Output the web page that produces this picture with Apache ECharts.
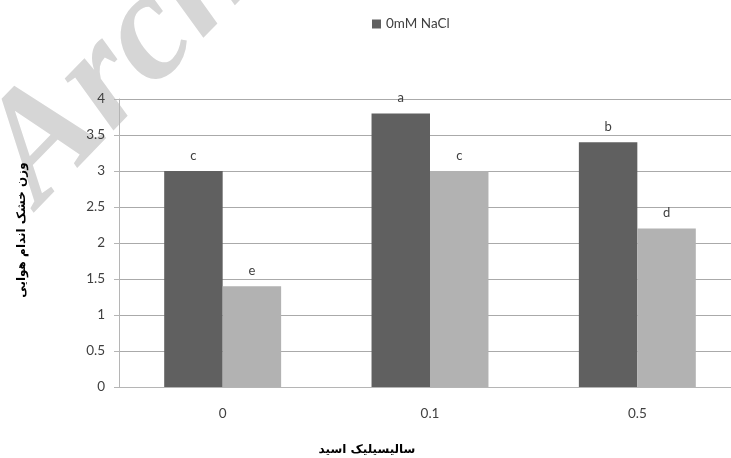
<!DOCTYPE html>
<html><head><meta charset="utf-8">
<script src="https://cdn.jsdelivr.net/npm/echarts@6/dist/echarts.min.js"></script>
<style>html,body{margin:0;padding:0;background:#fff;overflow:hidden;width:731px;height:458px}#c{width:745px;height:458px}</style>
</head><body><div id="c"></div>
<script>
const categories = ['0', '0.1', '0.5'];
const seriesNames = ['0mM NaCl', '100mM NaCl'];
const darkValues = [3.0, 3.8, 3.4];
const lightValues = [1.4, 3.0, 2.2];
const darkLetters = ['c', 'a', 'b'];
const lightLetters = ['e', 'c', 'd'];
const yTicks = [0, 0.5, 1, 1.5, 2, 2.5, 3, 3.5, 4];

const chart = echarts.init(document.getElementById('c'));
const font = 'Lato, "Open Sans", sans-serif';
function letterLabel(letters) {
  return { show: true, position: 'top', distance: 9, color: '#404040', fontSize: 13, fontFamily: font,
    formatter: p => letters[p.dataIndex] };
}
chart.setOption({
  animation: false,
  backgroundColor: '#fff',
  graphic: [{
    type: 'text', x: -45, y: 125, rotation: 0.8, z: 0, silent: true,
    style: { text: 'Archive of SID', font: 'italic bold 155px "Liberation Serif", serif', fill: '#d6d6d6', textVerticalAlign: 'alphabetic' }
  }, {
    type: 'text', x: 22, y: 230, rotation: Math.PI / 2, z: 10,
    style: { text: 'وزن خشک اندام هوایی', font: 'bold 12px "DejaVu Sans", sans-serif', fill: '#000', align: 'center', verticalAlign: 'middle' }
  }, {
    type: 'text', x: 367, y: 450, z: 10,
    style: { text: 'سالیسیلیک اسید', font: 'bold 12px "DejaVu Sans", sans-serif', fill: '#000', align: 'center', verticalAlign: 'middle' }
  }],
  legend: {
    data: [seriesNames[0]], top: 12, left: 367, itemWidth: 9, itemHeight: 9, itemGap: 3,
    icon: 'rect', textStyle: { color: '#404040', fontSize: 13.5, fontFamily: font }
  },
  grid: { left: 119, right: 4, top: 99, bottom: 71, containLabel: false },
  xAxis: {
    type: 'category', data: categories,
    axisLine: { lineStyle: { color: '#b5b5b5' } },
    axisTick: { show: false },
    axisLabel: { color: '#404040', fontSize: 13.5, fontFamily: font, margin: 20 }
  },
  yAxis: {
    type: 'value', min: 0, max: 4, interval: 0.5,
    axisLine: { show: true, lineStyle: { color: '#b5b5b5' } },
    axisTick: { show: true, length: 5, lineStyle: { color: '#b5b5b5' } },
    splitLine: { lineStyle: { color: '#aaaaaa' } },
    axisLabel: { color: '#404040', fontSize: 13.5, fontFamily: font, margin: 14,
      formatter: v => yTicks.includes(v) ? String(v) : '' }
  },
  series: [{
    name: seriesNames[0], type: 'bar', data: darkValues, barGap: '0%', barCategoryGap: '43.6%',
    itemStyle: { color: '#606060' }, label: letterLabel(darkLetters)
  }, {
    name: seriesNames[1], type: 'bar', data: lightValues,
    itemStyle: { color: '#b2b2b2' }, label: letterLabel(lightLetters)
  }]
});
</script></body></html>
